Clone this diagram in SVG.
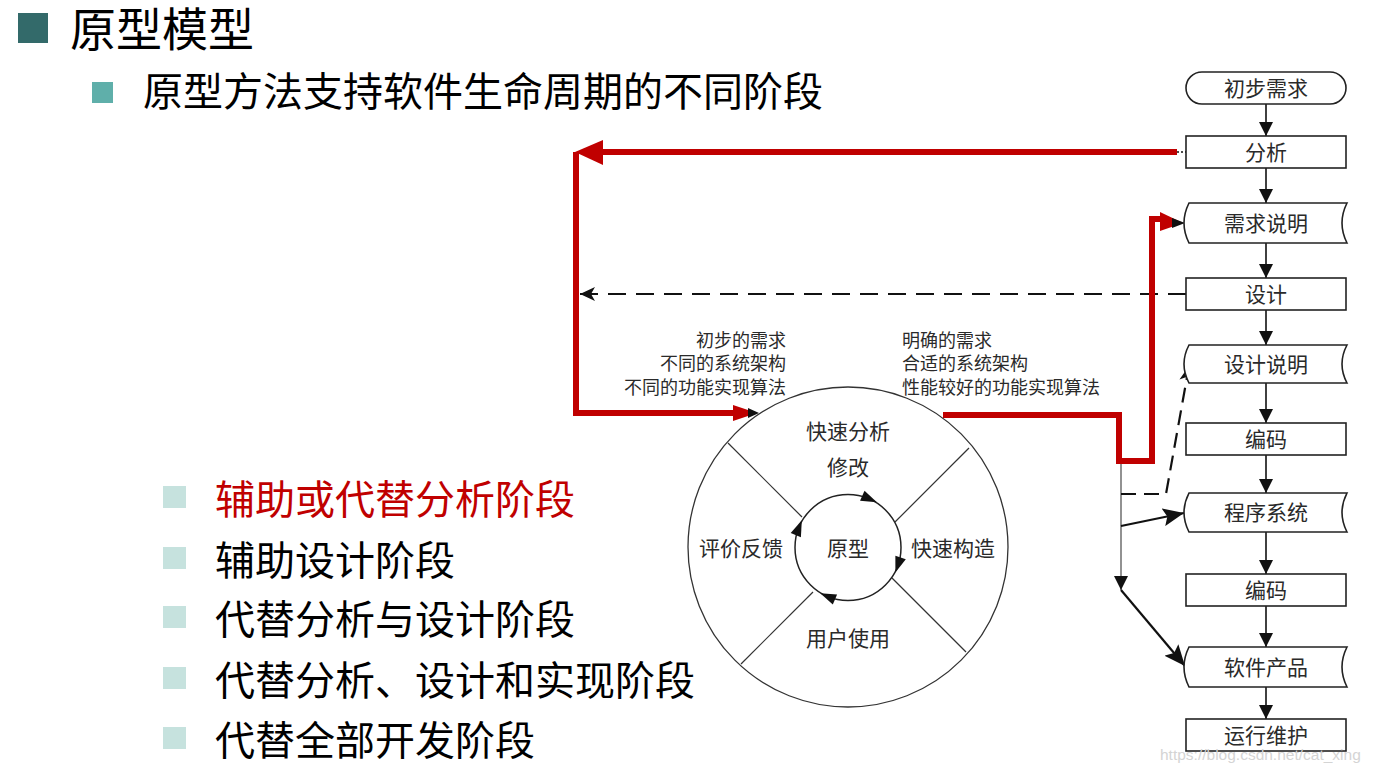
<svg xmlns="http://www.w3.org/2000/svg" width="1374" height="772" viewBox="0 0 1374 772">
<style>
.cjk{font-family:"Noto Sans CJK SC","Noto Sans",sans-serif}
.box{fill:#fff;stroke:#222;stroke-width:1.6}
.lbl{font-family:"Noto Sans CJK SC",sans-serif;font-size:21px;fill:#2a2a2a;text-anchor:middle}
.sm{font-family:"Noto Sans CJK SC",sans-serif;font-size:18px;fill:#2a2a2a}
.bl{font-family:"Noto Sans CJK SC",sans-serif;font-size:40px;fill:#000}
.conn{stroke:#111;stroke-width:1.6;fill:none}
.red{stroke:#c00000;stroke-width:6;fill:none}
</style>
<defs>
<marker id="ah" markerUnits="userSpaceOnUse" markerWidth="14" markerHeight="14" refX="14" refY="7" orient="auto">
<path d="M0,0 L14,7 L0,14 Z" fill="#111"/>
</marker>
<marker id="ahb" markerUnits="userSpaceOnUse" markerWidth="22" markerHeight="18" refX="21" refY="9" orient="auto">
<path d="M0,0 L21,9 L0,18 L4,9 Z" fill="#111"/>
</marker>
<marker id="ahd" markerUnits="userSpaceOnUse" markerWidth="16" markerHeight="16" refX="15" refY="8" orient="auto">
<path d="M0,1 L15,8 L0,15 L4,8 Z" fill="#111"/>
</marker>
</defs>
<rect width="1374" height="772" fill="#fff"/>

<!-- header -->
<g id="title">
<rect x="18" y="13" width="30" height="30" fill="#336a6a"/>
<text x="70" y="46" class="cjk" font-size="46" fill="#000">原型模型</text>
</g>
<g id="subtitle">
<rect x="92" y="82" width="21" height="21" fill="#5fafaa"/>
<text x="143" y="106" class="cjk" font-size="40" fill="#000">原型方法支持软件生命周期的不同阶段</text>
</g>

<!-- bullets -->
<g id="bullets">
<rect x="163" y="486" width="23" height="22" fill="#c6e2de"/>
<text x="215" y="514" class="bl" style="fill:#c00000">辅助或代替分析阶段</text>
<rect x="163" y="547" width="23" height="22" fill="#c6e2de"/>
<text x="215" y="575" class="bl">辅助设计阶段</text>
<rect x="163" y="606" width="23" height="22" fill="#c6e2de"/>
<text x="215" y="634" class="bl">代替分析与设计阶段</text>
<rect x="163" y="667" width="23" height="22" fill="#c6e2de"/>
<text x="215" y="695" class="bl">代替分析、设计和实现阶段</text>
<rect x="163" y="727" width="23" height="22" fill="#c6e2de"/>
<text x="215" y="755" class="bl">代替全部开发阶段</text>
</g>

<!-- connectors -->
<g id="connectors">
<line class="conn" x1="1266" y1="104" x2="1266" y2="136" marker-end="url(#ah)"/>
<line class="conn" x1="1266" y1="168" x2="1266" y2="203" marker-end="url(#ah)"/>
<line class="conn" x1="1266" y1="243" x2="1266" y2="278" marker-end="url(#ah)"/>
<line class="conn" x1="1266" y1="310" x2="1266" y2="345" marker-end="url(#ah)"/>
<line class="conn" x1="1266" y1="383" x2="1266" y2="423" marker-end="url(#ah)"/>
<line class="conn" x1="1266" y1="455" x2="1266" y2="493" marker-end="url(#ah)"/>
<line class="conn" x1="1266" y1="532" x2="1266" y2="574" marker-end="url(#ah)"/>
<line class="conn" x1="1266" y1="606" x2="1266" y2="647" marker-end="url(#ah)"/>
<line class="conn" x1="1266" y1="687" x2="1266" y2="719" marker-end="url(#ah)"/>

<line x1="1177" y1="152" x2="1186" y2="152" stroke="#111" stroke-width="1.5" stroke-dasharray="2,2"/>
<path class="red" d="M1177,152 H600 M576,152 V413 H735" stroke-width="6"/>
<polygon points="575,152 603,140 603,165" fill="#c00000"/>
<polygon points="733,405 757,413 733,421" fill="#c00000"/>
<polygon points="748,408 759,413 748,418" fill="#111"/>

<line x1="1186" y1="294" x2="580" y2="294" stroke="#111" stroke-width="2.2" stroke-dasharray="18,10" marker-end="url(#ahd)"/>

<line x1="1121" y1="415" x2="1121" y2="590" stroke="#777" stroke-width="1.6" marker-end="url(#ah)"/>

<path class="red" d="M943,415 H1119 V461 H1152 V219 H1162" stroke-width="5.5"/>
<polygon points="1160,212 1183,223 1160,231" fill="#c00000"/>
<polygon points="1172,218 1185,223 1172,228" fill="#111"/>

<path d="M1121,494 H1166 L1189,366" stroke="#111" stroke-width="2.2" stroke-dasharray="15,8" fill="none" marker-end="url(#ahd)"/>

<line x1="1121" y1="526" x2="1184" y2="513" stroke="#111" stroke-width="2.2" marker-end="url(#ahb)"/>

<line x1="1121" y1="590" x2="1185" y2="666" stroke="#111" stroke-width="2.2" marker-end="url(#ahb)"/>
</g>

<g id="left-labels">
<text class="sm" x="786" y="347" text-anchor="end">初步的需求</text>
<text class="sm" x="786" y="370" text-anchor="end">不同的系统架构</text>
<text class="sm" x="786" y="394" text-anchor="end">不同的功能实现算法</text>
</g>
<g id="right-labels">
<text class="sm" x="902" y="347">明确的需求</text>
<text class="sm" x="902" y="370">合适的系统架构</text>
<text class="sm" x="902" y="394">性能较好的功能实现算法</text>
</g>

<g id="cycle">
<circle cx="848" cy="547" r="160" fill="none" stroke="#333" stroke-width="1.3"/>
<circle cx="848" cy="547.5" r="53" fill="none" stroke="#222" stroke-width="1.5"/>
<line x1="728" y1="443" x2="802" y2="517" stroke="#333" stroke-width="1.2"/>
<line x1="969" y1="448" x2="895" y2="522" stroke="#333" stroke-width="1.2"/>
<line x1="892" y1="578" x2="966" y2="652" stroke="#333" stroke-width="1.2"/>
<line x1="813" y1="592" x2="741" y2="664" stroke="#333" stroke-width="1.2"/>
<path d="M-8,-5.5 L8,0 L-8,5.5 Z" fill="#111" transform="translate(869.6,499.1) rotate(24)"/>
<path d="M-8,-5.5 L8,0 L-8,5.5 Z" fill="#111" transform="translate(898,565) rotate(109)"/>
<path d="M-8,-5.5 L8,0 L-8,5.5 Z" fill="#111" transform="translate(827.6,596.4) rotate(203)"/>
<path d="M-8,-5.5 L8,0 L-8,5.5 Z" fill="#111" transform="translate(798.8,527.7) rotate(292)"/>
<text class="lbl" x="848" y="439">快速分析</text>
<text class="lbl" x="848" y="475">修改</text>
<text class="lbl" x="741" y="556">评价反馈</text>
<text class="lbl" x="848" y="556">原型</text>
<text class="lbl" x="953" y="556">快速构造</text>
<text class="lbl" x="848" y="646">用户使用</text>
</g>

<g id="n-chubu"><rect class="box" x="1186" y="72" width="160" height="32" rx="16"/><text class="lbl" x="1266" y="96">初步需求</text></g>
<g id="n-fenxi"><rect class="box" x="1186" y="136" width="160" height="32"/><text class="lbl" x="1266" y="160">分析</text></g>
<g id="n-xqsm"><path class="box" d="M1189,203 H1347 Q1337,223 1347,243 H1189 Q1179,223 1189,203 Z"/><text class="lbl" x="1266" y="231">需求说明</text></g>
<g id="n-sheji"><rect class="box" x="1186" y="278" width="160" height="32"/><text class="lbl" x="1266" y="302">设计</text></g>
<g id="n-sjsm"><path class="box" d="M1189,345 H1347 Q1337,364 1347,383 H1189 Q1179,364 1189,345 Z"/><text class="lbl" x="1266" y="372">设计说明</text></g>
<g id="n-bianma1"><rect class="box" x="1186" y="423" width="160" height="32"/><text class="lbl" x="1266" y="447">编码</text></g>
<g id="n-cxxt"><path class="box" d="M1189,493 H1347 Q1337,512.5 1347,532 H1189 Q1179,512.5 1189,493 Z"/><text class="lbl" x="1266" y="520">程序系统</text></g>
<g id="n-bianma2"><rect class="box" x="1186" y="574" width="160" height="32"/><text class="lbl" x="1266" y="598">编码</text></g>
<g id="n-rjcp"><path class="box" d="M1189,647 H1347 Q1337,667 1347,687 H1189 Q1179,667 1189,647 Z"/><text class="lbl" x="1266" y="675">软件产品</text></g>
<g id="n-yxwh"><rect class="box" x="1186" y="719" width="160" height="32"/><text class="lbl" x="1266" y="743">运行维护</text></g>

<text x="1160" y="760" font-family="Liberation Sans, sans-serif" font-size="15.5" fill="#d4d4d4">https://blog.csdn.net/cat_xing</text>
</svg>
